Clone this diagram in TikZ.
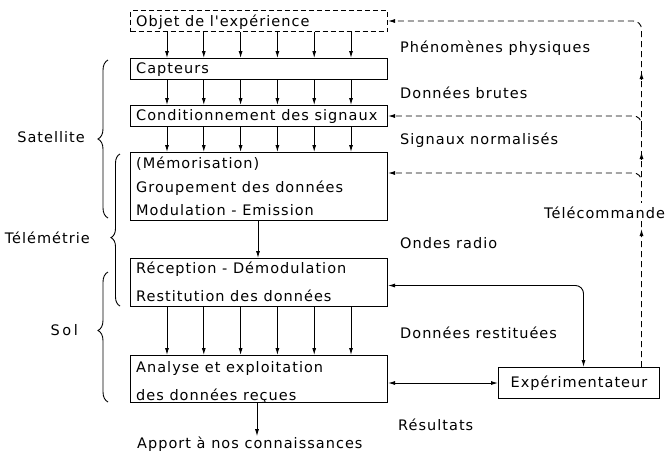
\documentclass[tikz,border=0pt]{standalone}
\usepackage{fontspec}
\newfontfamily\lab{DejaVu Sans}[LetterSpace=7]
\usetikzlibrary{arrows.meta,decorations.pathreplacing,calc}
\tikzset{
  box/.style={draw, line width=1pt, inner sep=0pt, anchor=north west, minimum width=257pt},
  lbl/.style={inner sep=0pt, anchor=base west},
  arr/.style={line width=0.9pt, -{Latex[length=7pt,width=4pt]}},
  arrs/.style={line width=0.9pt, {Latex[length=7pt,width=4pt]}-{Latex[length=7pt,width=4pt]}},
  tc/.style={line width=0.9pt, dash pattern=on 6pt off 4pt},
  tip/.style={line width=0.9pt, -{Latex[length=7pt,width=4pt]}},
  brc/.style={line width=0.9pt, decorate},
}
\begin{document}
\begin{tikzpicture}[x=1pt,y=-1pt,font=\lab\fontsize{14.5}{16}\selectfont]
\useasboundingbox (0,0) rectangle (671,456);
% boxes
\node[box, minimum height=21pt, dashed, dash pattern=on 5pt off 3pt] (obj) at (130,10) {};
\node[box, minimum height=21pt] (capt) at (130,58) {};
\node[box, minimum height=21pt] (cond) at (130,105) {};
\node[box, minimum height=68pt] (mem) at (130,152) {};
\node[box, minimum height=48pt] (rec) at (130,258) {};
\node[box, minimum height=47pt] (ana) at (130,355) {};
\node[draw, line width=1pt, inner sep=0pt, anchor=north west, minimum width=161pt, minimum height=31pt] (exp) at (498,367) {Expérimentateur};
% box texts
\node[lbl] (objt) at (136,26) {Objet de l'expérience};
\node[lbl] (captt) at (136,73) {Capteurs};
\node[lbl] (condt) at (136,120) {Conditionnement des signaux};
\node[lbl] (memt1) at (136,168) {(Mémorisation)};
\node[lbl] (memt2) at (136,192) {Groupement des données};
\node[lbl] (memt3) at (136,215) {Modulation - Emission};
\node[lbl] (rect1) at (136,273) {Réception - Démodulation};
\node[lbl] (rect2) at (136,301) {Restitution des données};
\node[lbl] (anat1) at (136,372) {Analyse et exploitation};
\node[lbl] (anat2) at (136,400) {des données reçues};
\node[lbl] (apport) at (137,448) {Apport à nos connaissances};
% right labels
\node[lbl] (phen) at (400,52) {Phénomènes physiques};
\node[lbl] (brut) at (400,98) {Données brutes};
\node[lbl] (norm) at (400,144) {Signaux normalisés};
\node[lbl] (onde) at (400,248) {Ondes radio};
\node[lbl] (resti) at (400,338) {Données restituées};
\node[lbl] (resu) at (398,430) {Résultats};
% left labels
\node[inner sep=0pt, anchor=east] (sat) at (85,137) {Satellite};
\node[inner sep=0pt, anchor=east] (tele) at (90,238) {Télémétrie};
\node[inner sep=0pt, anchor=east] (sol) at (78,330) {S\hspace{2.5pt}o\hspace{2.5pt}l};
% braces
\draw[brc, decoration={brace, amplitude=10pt}] (108,218) -- (108,60);
\draw[brc, decoration={brace, amplitude=9pt, aspect=0.45}] (120,306) -- (120,154);
\draw[brc, decoration={brace, amplitude=10pt, aspect=0.55}] (108,402) -- (108,272);
% parallel arrows
\foreach \d in {37,73.8,110.6,147.4,184.2,221} {
  \draw[arr] ([xshift=\d pt]obj.south west) -- ([xshift=\d pt]capt.north west);
  \draw[arr] ([xshift=\d pt]capt.south west) -- ([xshift=\d pt]cond.north west);
  \draw[arr] ([xshift=\d pt]cond.south west) -- ([xshift=\d pt]mem.north west);
  \draw[arr] ([xshift=\d pt]rec.south west) -- ([xshift=\d pt]ana.north west);
}
% single arrows
\draw[arr] ([xshift=128pt]mem.south west) -- ([xshift=128pt]rec.north west);
\coordinate (anaout) at ([xshift=127pt]ana.south west);
\draw[arr] (anaout) -- (anaout |- apport.north);
% experimenter links
\draw[arrs, rounded corners=8pt] ([yshift=-3pt]rec.east) -| ([xshift=4.5pt]exp.north);
\draw[arrs] (ana.east |- exp.west) -- (exp.west);
% telecommande
\coordinate (tcx) at ([xshift=62.5pt]exp.north);
\coordinate (memin) at ([yshift=-21pt]mem.north east);
\draw[tc, rounded corners=8pt, -{Latex[length=7pt,width=4pt]}] (tcx) |- (obj.east);
\draw[tc, rounded corners=8pt, -{Latex[length=7pt,width=4pt]}] ($(tcx |- cond.east)+(0,14)$) |- (cond.east);
\draw[tc, rounded corners=8pt, -{Latex[length=7pt,width=4pt]}] ($(tcx |- memin)+(0,14)$) |- (memin);
\foreach \yy in {75,155,232} {
  \draw[tip] ($(tcx)+(0,\yy-367+4)$) -- ($(tcx)+(0,\yy-367-3)$);
}
\node[lbl, fill=white, inner ysep=3pt] (telec) at (544,218) {Télécommande};
\end{tikzpicture}
\end{document}
